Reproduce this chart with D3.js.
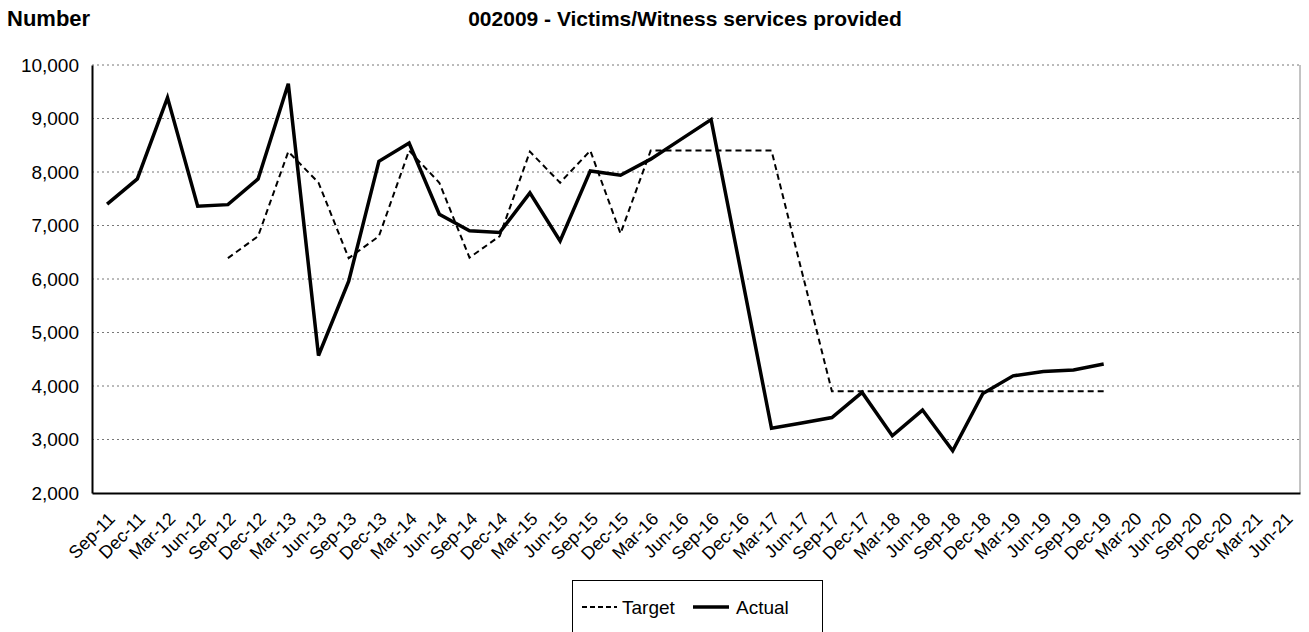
<!DOCTYPE html>
<html>
<head>
<meta charset="utf-8">
<script src="https://cdn.jsdelivr.net/npm/d3@7"></script>
<style>
  body { margin: 0; background: #fff; }
  svg { display: block; font-family: "Liberation Sans", Arial, sans-serif; }
</style>
</head>
<body>
<svg id="chart" width="1309" height="632"></svg>
<script>
const categories = ["Sep-11","Dec-11","Mar-12","Jun-12","Sep-12","Dec-12","Mar-13","Jun-13","Sep-13","Dec-13",
  "Mar-14","Jun-14","Sep-14","Dec-14","Mar-15","Jun-15","Sep-15","Dec-15","Mar-16","Jun-16",
  "Sep-16","Dec-16","Mar-17","Jun-17","Sep-17","Dec-17","Mar-18","Jun-18","Sep-18","Dec-18",
  "Mar-19","Jun-19","Sep-19","Dec-19","Mar-20","Jun-20","Sep-20","Dec-20","Mar-21","Jun-21"];

const targetValues = [null,null,null,null,6390,6800,8380,7800,6390,6800,
  8400,7800,6400,6800,8380,7800,8400,6850,8400,8400,
  8400,8400,8400,6150,3900,3900,3900,3900,3900,3900,
  3900,3900,3900,3900,null,null,null,null,null,null];

const actualValues = [7400,7870,9390,7360,7390,7870,9650,4570,5960,8200,
  8540,7210,6900,6870,7610,6710,8020,7940,8240,8610,
  8980,6100,3210,3310,3410,3880,3070,3550,2790,3860,
  4190,4270,4300,4410,null,null,null,null,null,null];

const yTicks = [2000,3000,4000,5000,6000,7000,8000,9000,10000];

const svg = d3.select("#chart");
const L = 92, R = 1300, T = 65, B = 493;
const FONT = "Liberation Sans, Arial, sans-serif";

const x = d3.scaleBand().domain(categories).range([L, R]);
const y = d3.scaleLinear().domain([2000, 10000]).range([B, T]);
const cx = c => x(c) + x.bandwidth() / 2;

// gridlines
svg.append("g").selectAll("line").data(yTicks.filter(v => v > 2000)).join("line")
  .attr("x1", L).attr("x2", R)
  .attr("y1", d => y(d)).attr("y2", d => y(d))
  .attr("stroke", "#777").attr("stroke-width", 1).attr("stroke-dasharray", "2,3");

// right border
svg.append("line").attr("x1", R).attr("x2", R).attr("y1", T).attr("y2", B)
  .attr("stroke", "#888").attr("stroke-width", 1);

// y axis
const yAxis = d3.axisLeft(y).tickValues(yTicks).tickSize(0).tickPadding(13)
  .tickFormat(d3.format(","));
const gy = svg.append("g").attr("transform", `translate(${L},0)`).call(yAxis);
gy.select(".domain").attr("stroke", "#000").attr("stroke-width", 2);
gy.selectAll("text").attr("font-size", 19).attr("fill", "#000").attr("font-family", FONT);

// x axis
const xAxis = d3.axisBottom(x).tickSize(0).tickPadding(0);
const gx = svg.append("g").attr("transform", `translate(0,${B})`).call(xAxis);
gx.select(".domain").attr("stroke", "#000").attr("stroke-width", 2);
gx.selectAll("text")
  .attr("font-size", 18).attr("fill", "#000").attr("font-family", FONT)
  .attr("text-anchor", "end")
  .attr("dy", null).attr("y", 0)
  .attr("transform", "translate(9,27) rotate(-45)");

// lines
const line = d3.line().defined(d => d.v != null).x(d => cx(d.c)).y(d => y(d.v));
const tData = categories.map((c, i) => ({c, v: targetValues[i]}));
const aData = categories.map((c, i) => ({c, v: actualValues[i]}));

svg.append("path").datum(tData).attr("d", line)
  .attr("fill", "none").attr("stroke", "#000").attr("stroke-width", 2)
  .attr("stroke-dasharray", "6,4");
svg.append("path").datum(aData).attr("d", line)
  .attr("fill", "none").attr("stroke", "#000").attr("stroke-width", 3.5)
  .attr("stroke-linejoin", "miter");

// titles
svg.append("text").attr("x", 7).attr("y", 26).text("Number")
  .attr("font-weight", "bold").attr("font-size", 22);
svg.append("text").attr("x", 685).attr("y", 26).attr("text-anchor", "middle")
  .text("002009 - Victims/Witness services provided")
  .attr("font-weight", "bold").attr("font-size", 21);

// legend
const lg = svg.append("g");
lg.append("rect").attr("x", 572.5).attr("y", 580.5).attr("width", 250).attr("height", 80)
  .attr("fill", "#fff").attr("stroke", "#000").attr("stroke-width", 1);
lg.append("line").attr("x1", 582).attr("x2", 617).attr("y1", 607).attr("y2", 607)
  .attr("stroke", "#000").attr("stroke-width", 2).attr("stroke-dasharray", "5,3");
lg.append("text").attr("x", 622).attr("y", 614).text("Target").attr("font-size", 19);
lg.append("line").attr("x1", 693).attr("x2", 729).attr("y1", 607).attr("y2", 607)
  .attr("stroke", "#000").attr("stroke-width", 3.5);
lg.append("text").attr("x", 736).attr("y", 614).text("Actual").attr("font-size", 19);
</script>
</body>
</html>
